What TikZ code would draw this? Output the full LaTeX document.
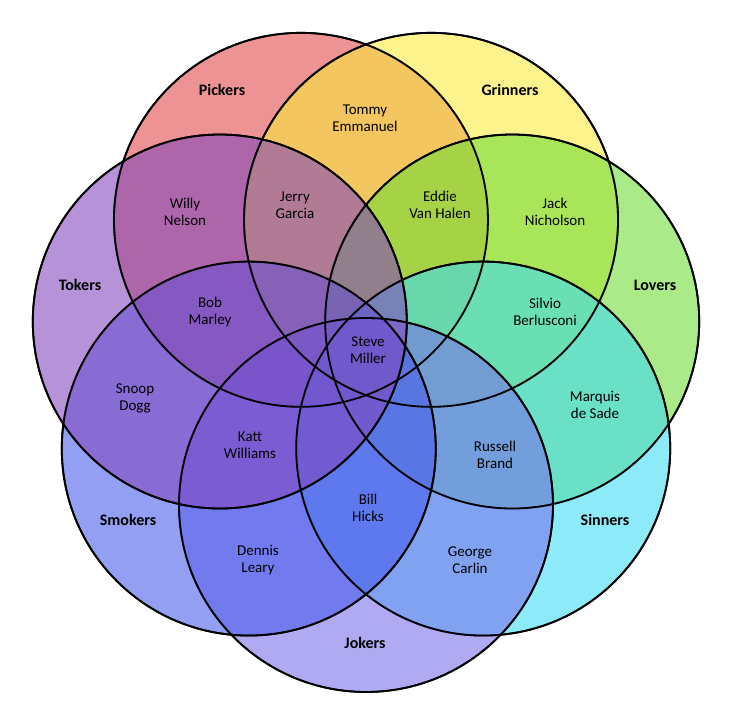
\documentclass[tikz,border=0pt]{standalone}
\usepackage{fontspec}
\setmainfont{Carlito}
\begin{document}
\begin{tikzpicture}[x=0.5pt,y=-0.5pt,
  ring/.style={draw=black,line width=0.9pt,fill opacity=0.58},
  cat/.style={font=\bfseries\fontsize{8}{9}\selectfont,align=center},
  who/.style={font=\fontsize{7.5}{8.5}\selectfont,align=center}]
\useasboundingbox (0,0) rectangle (736,716);
\fill[white] (0,0) rectangle (736,716);
\def\R{187}
\definecolor{cP}{RGB}{225,70,70}
\definecolor{cG}{RGB}{250,235,60}
\definecolor{cL}{RGB}{110,220,50}
\definecolor{cS}{RGB}{60,220,245}
\definecolor{cJ}{RGB}{120,110,235}
\definecolor{cM}{RGB}{70,90,235}
\definecolor{cT}{RGB}{130,70,190}
\foreach \a/\c in {154.3/cP,205.7/cG,257.1/cL,308.6/cS,0/cJ,51.4/cM,102.9/cT}{
  \path[ring,fill=\c] ({366-150*sin(\a)},{355+150*cos(\a)}) circle[radius=\R];
}
\foreach \a in {154.3,205.7,257.1,308.6,0,51.4,102.9}{
  \draw[line width=0.9pt] ({366-150*sin(\a)},{355+150*cos(\a)}) circle[radius=\R];
}
\node[cat] (pk) at (222,90) {Pickers};
\node[cat] (gr) at (510,90) {Grinners};
\node[cat] (tk) at (80,285) {Tokers};
\node[cat] (lv) at (655,285) {Lovers};
\node[cat] (sm) at (128,520) {Smokers};
\node[cat] (sn) at (605,520) {Sinners};
\node[cat] (jk) at (365,643) {Jokers};
\node[who] (n1) at (365,118) {Tommy\\Emmanuel};
\node[who] (n2) at (185,212) {Willy\\Nelson};
\node[who] (n3) at (295,205) {Jerry\\Garcia};
\node[who] (n4) at (440,205) {Eddie\\Van Halen};
\node[who] (n5) at (555,212) {Jack\\Nicholson};
\node[who] (n6) at (210,312) {Bob\\Marley};
\node[who] (n7) at (545,312) {Silvio\\Berlusconi};
\node[who] (n8) at (368,350) {Steve\\Miller};
\node[who] (n9) at (135,398) {Snoop\\Dogg};
\node[who] (n10) at (595,405) {Marquis\\de Sade};
\node[who] (n11) at (250,445) {Katt\\Williams};
\node[who] (n12) at (495,455) {Russell\\Brand};
\node[who] (n13) at (368,508) {Bill\\Hicks};
\node[who] (n14) at (258,560) {Dennis\\Leary};
\node[who] (n15) at (470,560) {George\\Carlin};
\end{tikzpicture}
\end{document}
